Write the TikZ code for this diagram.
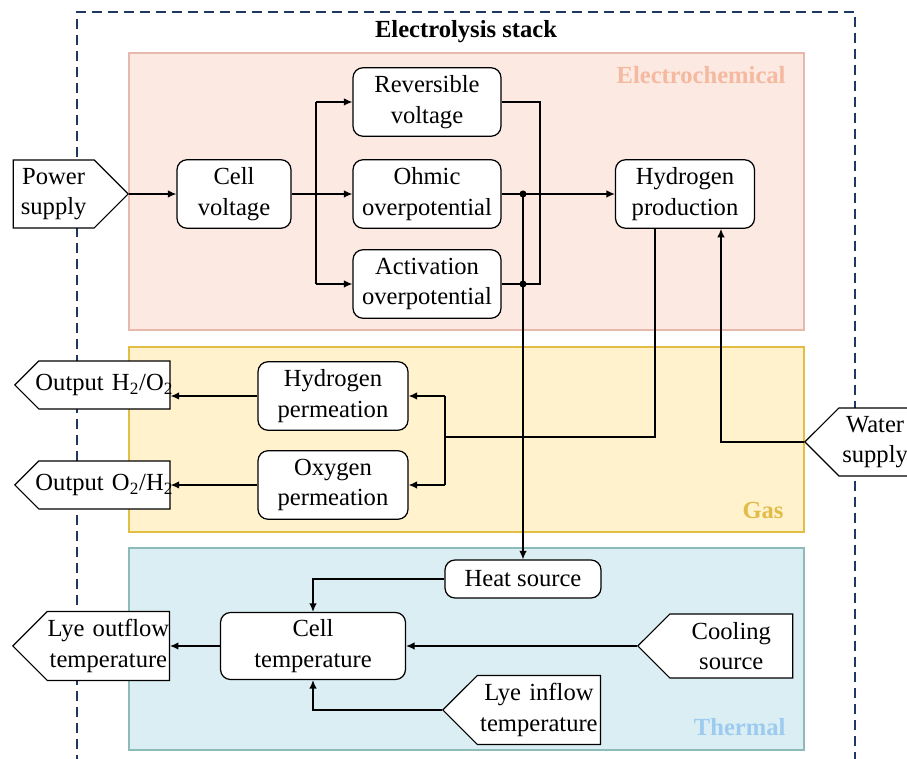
\documentclass[tikz,border=0pt]{standalone}
\usepackage{fontspec}
\setmainfont{Liberation Serif}
\usetikzlibrary{arrows.meta,shapes.symbols}
\definecolor{stackblue}{HTML}{1F3864}
\definecolor{echemfill}{HTML}{FBE9E2}
\definecolor{echemline}{HTML}{E6B9AC}
\definecolor{echemtext}{HTML}{F5B9A0}
\definecolor{gasfill}{HTML}{FFF2CC}
\definecolor{gasline}{HTML}{E2BE45}
\definecolor{gastext}{HTML}{E2BC4A}
\definecolor{thermfill}{HTML}{DAEEF3}
\definecolor{thermline}{HTML}{8CBBB9}
\definecolor{thermtext}{HTML}{9DCBF0}
\newcommand\diafont{\fontsize{14}{17.5}\selectfont}
\tikzset{
	blk/.style={draw,rounded corners=.2cm,fill=white,align=center,inner sep=0pt,minimum height=1.37cm},
	port/.style={draw,fill=white,signal,signal pointer angle=90,align=center,inner xsep=0pt,inner ysep=4.5pt},
	outport/.style={port,signal to=west,text width=2.8cm,inner xsep=-2.5pt,inner ysep=7.5pt,anchor=west},
	flow/.style={-{Latex[length=4.8pt,width=4.2pt]}},
	zonelbl/.style={anchor=east,font=\diafont\bfseries}
}
\begin{document}
\begin{tikzpicture}[x=0.02cm,y=-0.02cm,line width=.7pt,font=\diafont]
		\useasboundingbox (0,0) rectangle (907,759);
		% stack and zones
		\draw[stackblue,line width=.9pt,dash pattern=on .2cm off .12cm] (77,765)--(77,12)--(855,12)--(855,765);
		\node[font=\diafont\bfseries] (title) at (466,32) {Electrolysis stack};
		\draw[echemline,fill=echemfill] (129,53) rectangle (804,330);
		\draw[gasline,fill=gasfill] (129,347) rectangle (804,532);
		\draw[thermline,fill=thermfill] (129,548) rectangle (804,750);
		\node[zonelbl,text=echemtext] (echem) at (792,75) {Electrochemical};
		\node[zonelbl,text=gastext] (gas) at (790,510) {Gas};
		\node[zonelbl,text=thermtext] (therm) at (792,727) {Thermal};
		% electrochemical
		\node[port,signal to=east,text width=1.62cm,anchor=east] (pow) at (129,194) {Power\\supply};
		\node[blk,minimum width=2.28cm] (cv) at (234,194) {Cell\\voltage};
		\node[blk,minimum width=2.96cm] (rv) at (427,102) {Reversible\\voltage};
		\node[blk,minimum width=2.96cm] (ov) at (427,194) {Ohmic\\overpotential};
		\node[blk,minimum width=2.96cm] (av) at (427,284) {Activation\\overpotential};
		\node[blk,minimum width=2.78cm] (hp) at (685,194) {Hydrogen\\production};
		\path (316,194) coordinate (br)
		(540,194) coordinate (mx)
		(523,194) coordinate (tap)
		(445,437) coordinate (gs);
		\draw[flow] (pow.east)--(cv.west);
		\draw (cv.east)--(br) (rv.west-|br)--(av.west-|br);
		\foreach \n in {rv,ov,av} \draw[flow] (\n.west-|br)--(\n.west);
		\draw (rv.east)-|(av.east-|mx)--(av.east);
		\draw[flow] (ov.east)--(hp.west);
		\foreach \n in {ov,av} \fill (\n.east-|tap) circle[radius=2pt];
		% gas
		\node[blk,minimum width=3cm] (hyp) at (333,396) {Hydrogen\\permeation};
		\node[blk,minimum width=3cm] (oxp) at (333,485) {Oxygen\\permeation};
		\node[outport] (oh) at (14,385) {Output H\textsubscript{2}/O\textsubscript{2}};
		\node[outport] (oo) at (14,485) {Output O\textsubscript{2}/H\textsubscript{2}};
		\node[port,signal to=west,text width=1.45cm,anchor=west] (ws) at (804,442) {Water\\supply};
		\draw ([xshift=-.6cm]hp.south)|-(gs) (hyp.east-|gs)--(oxp.east-|gs);
		\foreach \n in {hyp,oxp} \draw[flow] (\n.east-|gs)--(\n.east);
		\draw[flow] (hyp.west)--(hyp.west-|oh.east);
		\draw[flow] (oxp.west)--(oxp.west-|oo.east);
		\draw[flow] (ws.west)-|([xshift=.72cm]hp.south);
		% thermal
		\node[blk,minimum width=3.12cm,minimum height=.76cm] (hs) at (523,579) {Heat source};
		\node[blk,minimum width=3.7cm,minimum height=1.34cm] (ct) at (313,646) {Cell\\temperature};
		\node[port,signal to=west,text width=2.44cm,anchor=west] (lo) at (12,646) {Lye outflow\\temperature};
		\node[port,signal to=west,text width=2.46cm,anchor=west] (cs) at (637,646) {Cooling\\source};
		\node[port,signal to=west,text width=2.46cm,anchor=west] (li) at (442,710) {Lye inflow\\temperature};
		\draw[flow] (ov.east-|tap)--(hs.north);
		\draw[flow] (hs.west)-|(ct.north);
		\draw[flow] (cs.west)--(ct.east);
		\draw[flow] (li.west)-|(ct.south);
		\draw[flow] (ct.west)--(lo.east);
		\end{tikzpicture}
\end{document}
